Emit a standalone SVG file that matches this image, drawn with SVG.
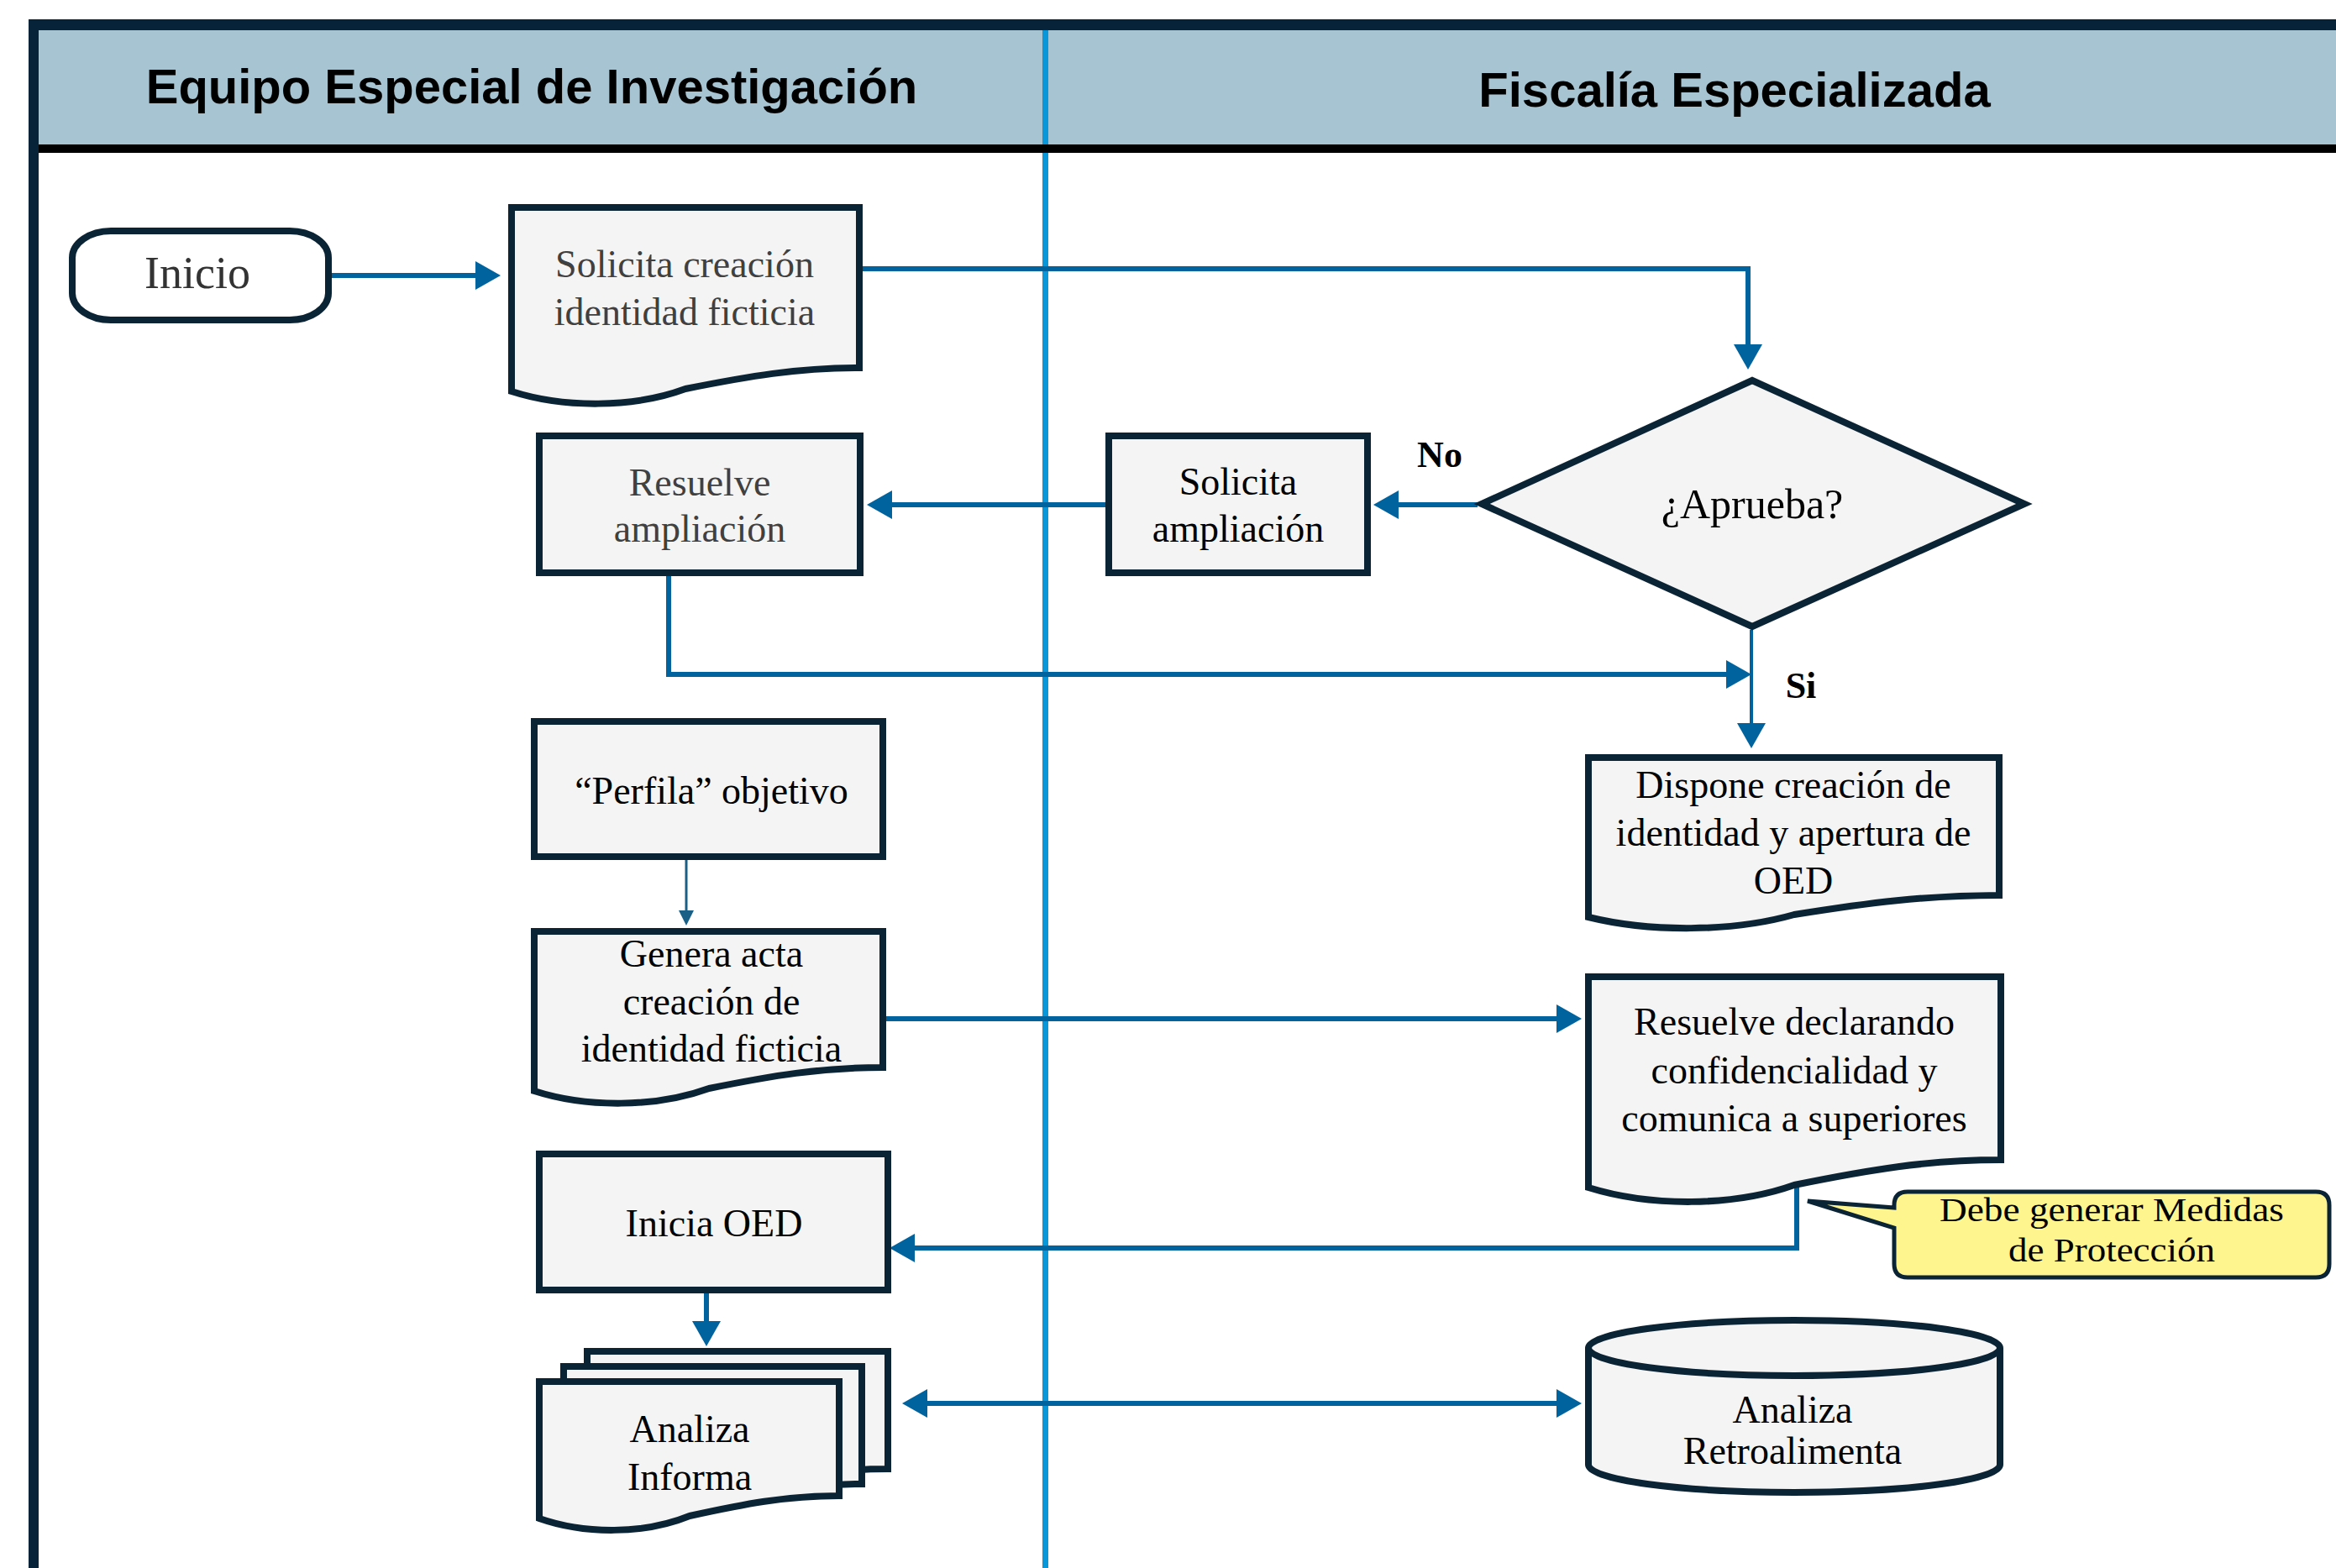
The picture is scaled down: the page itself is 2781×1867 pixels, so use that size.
<svg xmlns="http://www.w3.org/2000/svg" width="2781" height="1867" viewBox="0 0 2781 1867">
<defs>
<style>
.shape{fill:#f4f4f4;stroke:#0b2435;stroke-width:8}
.t{font-family:"Liberation Serif","Times New Roman",serif;font-size:46px;fill:#000;text-anchor:middle}
.g{fill:#404040}
.hd{font-family:"Liberation Sans",Arial,sans-serif;font-size:58px;font-weight:bold;fill:#000;text-anchor:middle}
.lb{font-family:"Liberation Serif","Times New Roman",serif;font-size:44px;font-weight:bold;fill:#000;text-anchor:middle}
.c{fill:none;stroke:#00639e;stroke-width:6}
</style>
<marker id="a" markerUnits="userSpaceOnUse" markerWidth="32" markerHeight="36" refX="20" refY="17" orient="auto-start-reverse"><path d="M0,0 L30,17 L0,34 Z" fill="#00639e"/></marker>
<marker id="s" markerUnits="userSpaceOnUse" markerWidth="20" markerHeight="20" refX="10" refY="9" orient="auto"><path d="M0,0 L18,9 L0,18 Z" fill="#1a5f86"/></marker>
</defs>
<rect width="2781" height="1867" fill="#fff"/>
<g id="frame">
<rect x="46" y="36" width="2735" height="136" fill="#a7c4d2"/>
<rect x="1241" y="36" width="7" height="1831" fill="#0a97d9"/>
<rect x="34" y="23" width="2747" height="13" fill="#06233a"/>
<rect x="46" y="172" width="2735" height="10" fill="#000"/>
<rect x="34" y="23" width="12" height="1844" fill="#06233a"/>
<text class="hd" x="633" y="123">Equipo Especial de Investigación</text>
<text class="hd" x="2065" y="127">Fiscalía Especializada</text>
</g>
<g id="connectors">
<path class="c" d="M392,328 H586" marker-end="url(#a)"/>
<path class="c" d="M1027,320 H2081 V430" marker-end="url(#a)"/>
<path class="c" d="M1759,601 H1645" marker-end="url(#a)"/>
<path class="c" d="M1316,601 H1042" marker-end="url(#a)"/>
<path class="c" d="M796,686 V803 H2075" marker-end="url(#a)"/>
<path class="c" d="M2085,750 V881" style="stroke-width:4" marker-end="url(#a)"/>
<path class="c" d="M817,1024 V1094" style="stroke:#1a5f86;stroke-width:3" marker-end="url(#s)"/>
<path class="c" d="M1055,1213 H1873" marker-end="url(#a)"/>
<path class="c" d="M2139,1414 V1486 H1069" marker-end="url(#a)"/>
<path class="c" d="M841,1540 V1593" marker-end="url(#a)"/>
<path class="c" d="M1084,1671 H1873" marker-start="url(#a)" marker-end="url(#a)"/>
</g>
<g id="inicio">
<rect x="86" y="275" width="305" height="106" rx="46" ry="32" fill="#fff" stroke="#0b2435" stroke-width="8"/>
<text class="t" x="235" y="343" style="font-size:54px;fill:#333">Inicio</text>
</g>
<g id="solicita-creacion">
<path class="shape" d="M609,247 H1023 V438 C949,438 891,448 816,463 C754,486 671,486 609,466 Z"/>
<text class="t g" x="815" y="330">Solicita creación</text>
<text class="t g" x="815" y="387">identidad ficticia</text>
</g>
<g id="resuelve-ampliacion">
<rect class="shape" x="642" y="519" width="382" height="163"/>
<text class="t g" x="833" y="590">Resuelve</text>
<text class="t g" x="833" y="645">ampliación</text>
</g>
<g id="solicita-ampliacion">
<rect class="shape" x="1320" y="519" width="308" height="163"/>
<text class="t" x="1474" y="589">Solicita</text>
<text class="t" x="1474" y="645">ampliación</text>
</g>
<g id="aprueba">
<path class="shape" d="M2086,453 L2410,600 L2086,746 L1764,600 Z"/>
<text class="t" x="2086" y="617" style="font-size:50px">¿Aprueba?</text>
<text class="lb" x="1714" y="556">No</text>
<text class="lb" x="2144" y="831">Si</text>
</g>
<g id="perfila">
<rect class="shape" x="636" y="859" width="415" height="161"/>
<text class="t" x="847" y="957">“Perfila” objetivo</text>
</g>
<g id="dispone">
<path class="shape" d="M1891,902 H2380 V1066 C2292,1066 2224,1075 2136,1089 C2062,1110 1964,1110 1891,1092 Z"/>
<text class="t" x="2135" y="950">Dispone creación de</text>
<text class="t" x="2135" y="1007">identidad y apertura de</text>
<text class="t" x="2135" y="1064">OED</text>
</g>
<g id="genera-acta">
<path class="shape" d="M636,1109 H1051 V1271 C977,1271 918,1281 844,1296 C781,1319 698,1319 636,1299 Z"/>
<text class="t" x="847" y="1151">Genera acta</text>
<text class="t" x="847" y="1208">creación de</text>
<text class="t" x="847" y="1264">identidad ficticia</text>
</g>
<g id="resuelve-declarando">
<path class="shape" d="M1891,1163 H2382 V1381 C2294,1381 2225,1393 2136,1411 C2063,1437 1965,1437 1891,1414 Z"/>
<text class="t" x="2136" y="1232">Resuelve declarando</text>
<text class="t" x="2136" y="1290">confidencialidad y</text>
<text class="t" x="2136" y="1347">comunica a superiores</text>
</g>
<g id="nota">
<path d="M2271,1419 H2757 Q2773,1419 2773,1435 V1505 Q2773,1521 2757,1521 H2271 Q2255,1521 2255,1505 V1462 L2152,1430 L2255,1438 V1435 Q2255,1419 2271,1419 Z" fill="#fff58f" stroke="#0b2435" stroke-width="5"/>
<text class="t" x="2514" y="1454" style="font-size:41px" textLength="410" lengthAdjust="spacingAndGlyphs">Debe generar Medidas</text>
<text class="t" x="2514" y="1502" style="font-size:41px" textLength="246" lengthAdjust="spacingAndGlyphs">de Protección</text>
</g>
<g id="inicia-oed">
<rect class="shape" x="642" y="1374" width="415" height="162"/>
<text class="t" x="850" y="1472">Inicia OED</text>
</g>
<g id="analiza-informa">
<path class="shape" d="M699,1609 H1057 V1749 C993,1749 943,1759 878,1773 C824,1795 752,1795 699,1776 Z"/>
<path class="shape" d="M671,1627 H1026 V1767 C962,1767 913,1777 849,1791 C795,1813 724,1813 671,1794 Z"/>
<path class="shape" d="M642,1645 H999 V1781 C935,1781 885,1791 821,1805 C767,1827 696,1827 642,1808 Z"/>
<text class="t" x="821" y="1717">Analiza</text>
<text class="t" x="821" y="1774">Informa</text>
</g>
<g id="analiza-retroalimenta">
<path class="shape" d="M1891,1605 A245,33 0 0 1 2381,1605 V1744 A245,33 0 0 1 1891,1744 Z"/>
<path d="M1891,1605 A245,33 0 0 0 2381,1605" fill="none" stroke="#0b2435" stroke-width="8"/>
<text class="t" x="2134" y="1694">Analiza</text>
<text class="t" x="2134" y="1743">Retroalimenta</text>
</g>
</svg>
